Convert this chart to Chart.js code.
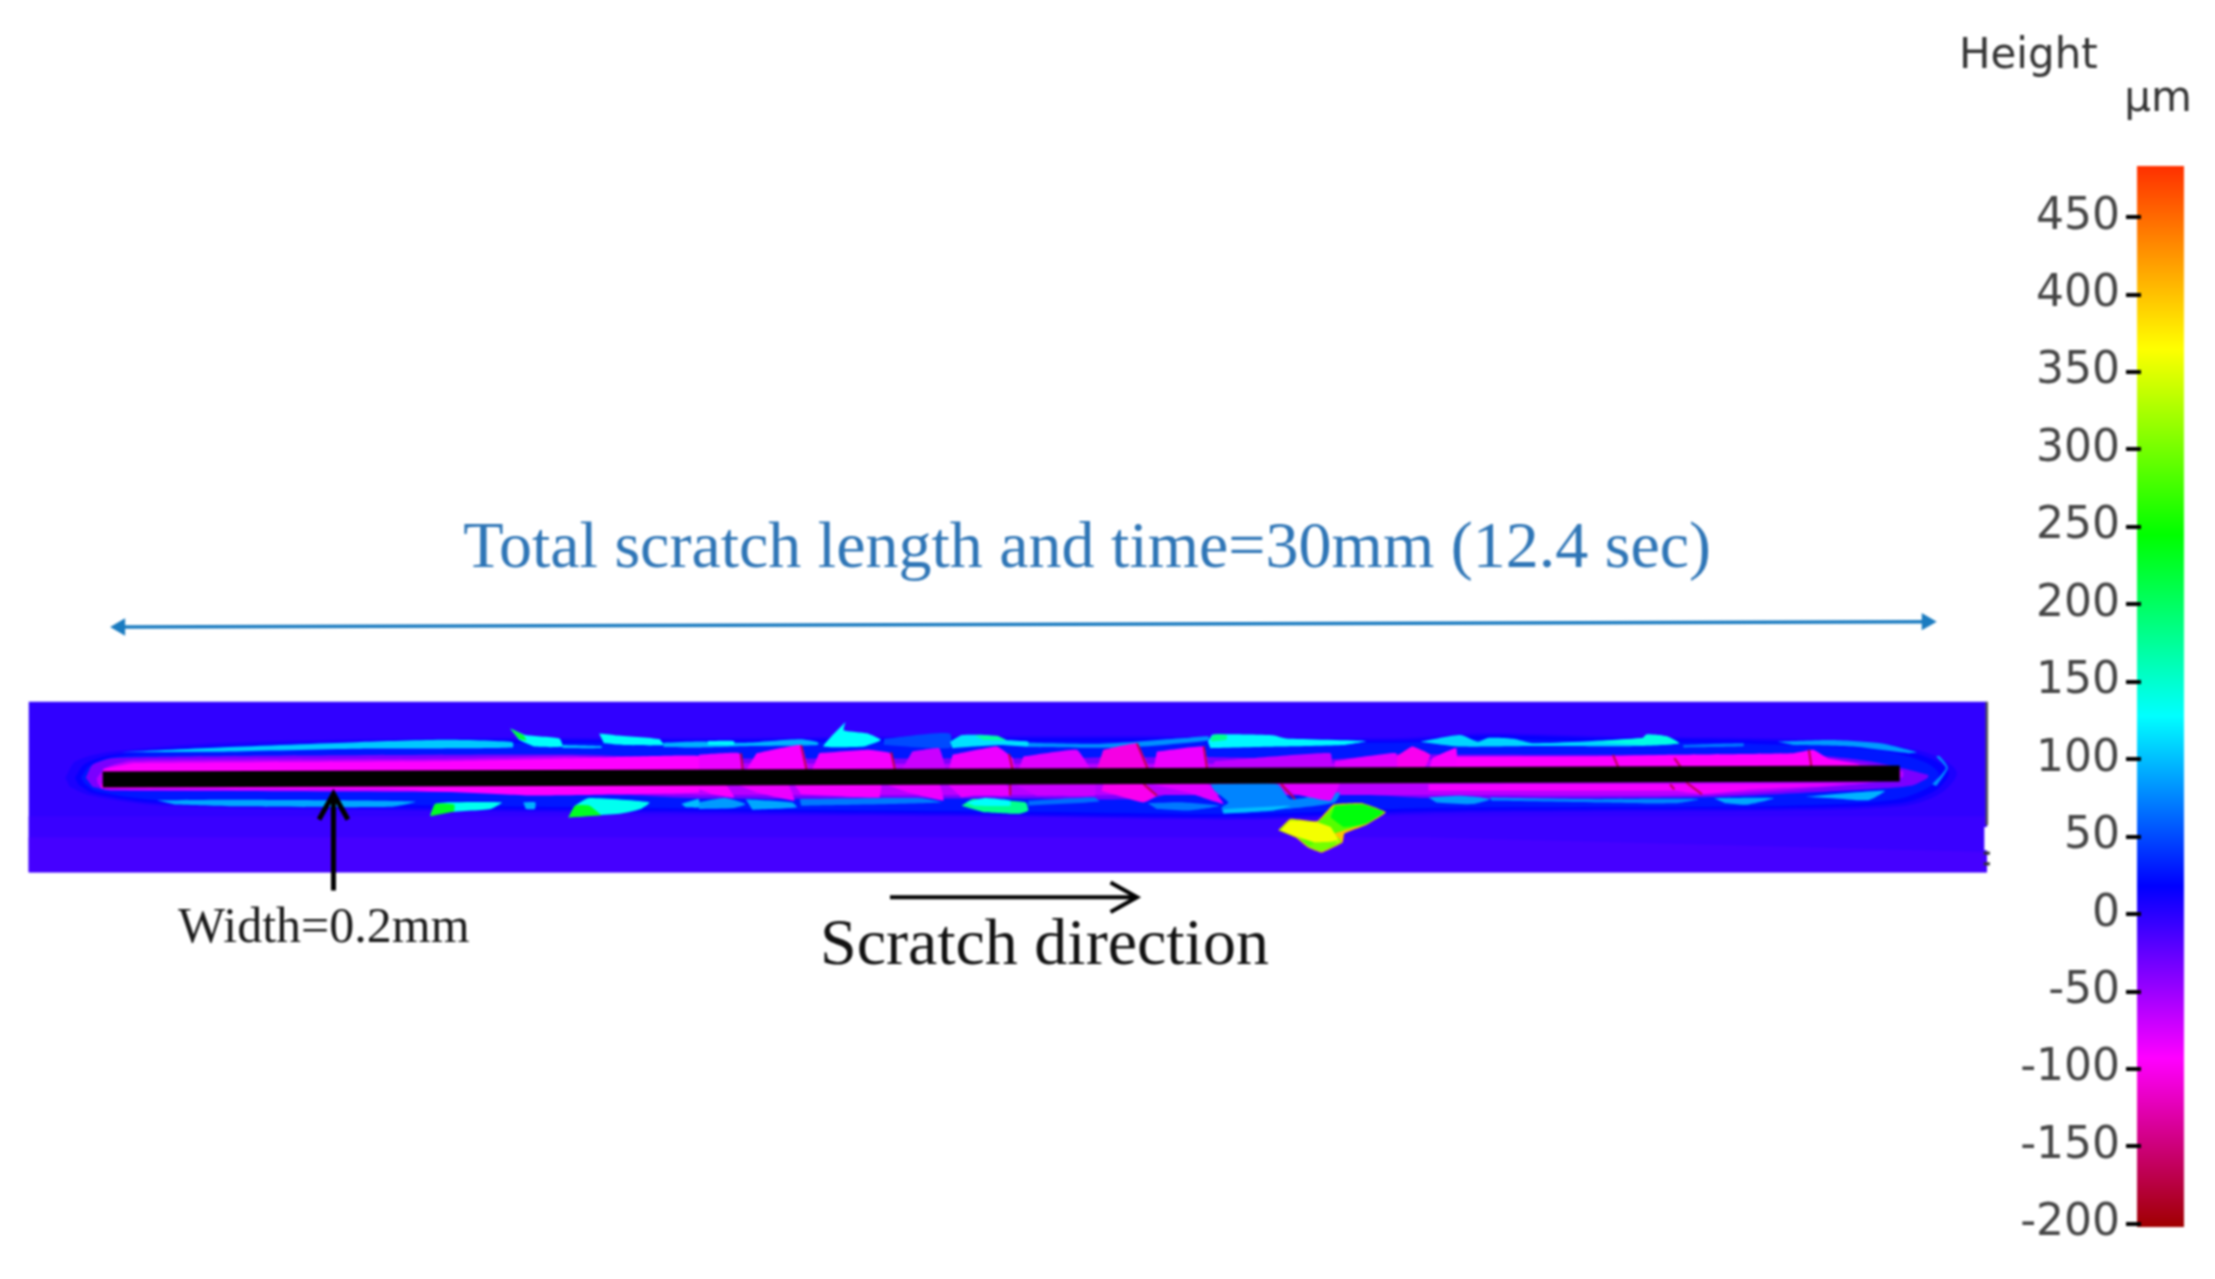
<!DOCTYPE html>
<html><head><meta charset="utf-8">
<script src="https://cdn.jsdelivr.net/npm/chart.js@4"></script>
<style>
html,body{margin:0;padding:0;background:#fff;width:2215px;height:1279px;overflow:hidden}
canvas{position:absolute;top:0;filter:blur(1px)}
#map{left:0}
#bar{left:1980px}
</style></head><body>
<canvas id="map" width="2215" height="1279"></canvas>
<canvas id="bar" width="235" height="1279"></canvas>
<script>
// Colour scale of the height map (micrometres)
const heightTicks = [450,400,350,300,250,200,150,100,50,0,-50,-100,-150,-200];
const scaleHeights = [-202,-93,18,128,245,365,483];
const scaleColors = ['#a00000','#ff00ff','#0000ff','#00ffff','#00ff00','#ffff00','#ff3000'];

// Surface regions: [height µm, x mm, y mm, x mm, y mm, ...]
const panelBands = [
 [-3, -1.23,1.33, 31.35,1.33, 31.35,-1.54, -1.23,-1.54],
 [-7, -1.23,-.6, 31.35,-.6, 31.35,-1.54, -1.23,-1.54],
 [-12, -1.23,-.95, 22,-.95, 31.35,-1.2, 31.35,-1.54, -1.23,-1.54],
];
const halo = [
 [6, -.62,.05, -.45,.33, .16,.49, 2,.64, 5.7,.72, 9.9,.72, 14,.75, 18,.75, 21.5,.72, 23,.8, 25,.75, 27.5,.72, 29.5,.65, 30.5,.42, 30.85,.14, 30.6,-.2, 30,-.42, 28,-.5, 25,-.52, 22,-.55, 19,-.65, 15,-.6, 10,-.55, 5,-.5, 1,-.42, -.2,-.25, -.55,-.1],
 [16, -.46,.05, -.3,.28, .2,.44, 2,.59, 5.7,.68, 9.9,.68, 14,.71, 18,.71, 21.5,.68, 23,.76, 25,.71, 27.5,.68, 29.5,.6, 30.4,.38, 30.72,.14, 30.5,-.16, 29.9,-.38, 28,-.46, 25,-.48, 22,-.51, 19,-.61, 15,-.56, 10,-.51, 5,-.46, 1,-.38, -.15,-.21, -.4,-.07],
 [28, -.36,.05, -.22,.25, .22,.41, 2,.53, 5.7,.62, 9.9,.64, 14,.66, 18,.66, 21.5,.64, 23,.7, 25,.66, 27.5,.62, 29.5,.52, 30.3,.32, 30.55,.12, 30.4,-.1, 29.8,-.32, 28,-.42, 25,-.44, 22,-.46, 19,-.56, 15,-.52, 10,-.47, 5,-.41, 1,-.33, -.1,-.18, -.3,-.05],
];
const trenchOuter = [
 [-35, -.28,.05, -.17,.27, .16,.38, 2.75,.42, 7.71,.44, 9.92,.38, 15.1,.38, 18.35,.4, 20.43,.36, 21.53,.45, 22.59,.44, 28.53,.42, 29.45,.32, 30.37,.1, 30.37,.05, 30.11,-.08, 29.45,-.14, 26.61,-.28, 22.19,-.3, 20.5,-.2, 18.43,-.05, 17.39,-.3, 15.1,-.3, 13.99,-.3, 9.92,-.3, 7.93,-.2, 4.97,-.16, .16,-.17, -.17,-.1],
 [-62, -.1,.04, .05,.22, .5,.34, 5.71,.37, 7.93,.41, 9.92,.3, 21.5,.3, 22.52,.4, 28.4,.4, 29.3,.28, 29.95,.16, 29.95,.06, 29,-.08, 26.6,-.24, 22.1,-.24, 9.92,-.24, 7.2,-.2, .05,-.15, -.08,-.06],
];
const rims = [
 [105, .31,.48, 2.01,.565, 4.23,.65, 5.71,.69, 6.82,.65, 6.82,.56, 4.23,.54, 2.01,.49],
 [90, .9,-.33, 2.2,-.32, 5.2,-.35, 4.8,-.44, 2.2,-.43, 1.2,-.4],
 [100, 7.65,.6, 8.3,.58, 8.3,.55, 7.65,.55],
 [95, 9.33,.64, 9.92,.66, 10.66,.64, 11.6,.7, 11.9,.65, 11.9,.6, 10.66,.58, 9.92,.56, 9.33,.57],
 [125, 10.07,.67, 10.5,.67, 10.5,.6, 10.07,.6],
 [50, 13.0,.7, 13.75,.79, 14.1,.79, 14.1,.55, 13.0,.6],
 [80, 15.4,.64, 16.58,.62, 18,.72, 18.4,.75, 18.4,.68, 17,.56, 15.4,.57],
 [110, 21.93,.658, 22.59,.77, 22.88,.658, 23.05,.72, 23.31,.72, 23.51,.7, 23.81,.63, 25.62,.72, 25.69,.78, 26.02,.75, 26.23,.63, 25.62,.585, 23.84,.585, 22.59,.575, 22.19,.62],
 [140, 24.77,.66, 25.62,.72, 25.69,.78, 26.02,.75, 26.23,.63, 25.62,.6],
 [85, 27.87,.658, 28.79,.685, 29.58,.63, 30.18,.48, 30.04,.464, 29.12,.575, 28.13,.602],
 [70, 26.3,.6, 27.3,.63, 27.3,.58, 26.3,.56],
 [80, 30.44,-.06, 30.67,.215, 30.51,.41, 30.57,.41, 30.7,.215, 30.51,-.09],
 [85, 22.06,-.282, 22.59,-.254, 23.08,-.31, 22.78,-.393, 22.19,-.365],
 [75, 23.08,-.282, 24.83,-.31, 26.55,-.31, 26.15,-.38, 24.83,-.365, 23.11,-.337],
 [90, 26.81,-.293, 27.8,-.293, 27.34,-.404, 27,-.38],
 [95, 28.33,-.27, 29.65,-.17, 29.38,-.327, 28.79,-.293],
 [85, 9.92,-.365, 10.36,-.293, 10.7,-.393, 10.5,-.46, 9.92,-.476],
 [90, 10.7,-.31, 11.47,-.365, 11.55,-.448, 10.81,-.49],
 [70, 11.6,-.31, 13.62,-.293, 13.95,-.365, 11.62,-.42],
 [65, 15.4,-.337, 16.5,-.282, 16.58,-.35, 15.4,-.42],
 [70, 17.39,-.38, 17.99,-.365, 18.58,-.42, 18.06,-.5, 17.54,-.476],
 [75, 18.43,-.061, 19.54,-.061, 19.76,-.31, 20.58,-.2, 20.5,-.365, 19.69,-.476, 18.65,-.55, 18.62,-.448, 18.73,-.365, 18.5,-.171],
 [100, 18.65,-.476, 19.76,-.42, 19.47,-.5, 18.65,-.55],
];
const flakes = [
 [130, 6.78,.88, 7.04,.77, 7.6,.71, 7.65,.575, 7.19,.575, 6.93,.685],
 [220, 6.78,.88, 7,.77, 7.05,.68, 6.93,.7],
 [130, 8.26,.796, 8.52,.768, 9.26,.702, 9.33,.602, 8.67,.602, 8.34,.63],
 [128, 12.36,.99, 12.33,.851, 12.73,.796, 12.95,.685, 12.66,.575, 11.99,.575, 12.14,.768],
 [115, 14.1,.658, 14.29,.768, 14.73,.768, 15.03,.685, 15.4,.658, 15.4,.575, 14.95,.6, 14.51,.575, 14.14,.547],
 [170, 14.51,.768, 14.88,.757, 15.03,.685, 14.66,.685],
 [125, 18.39,.658, 18.47,.779, 19.47,.768, 19.69,.713, 21.02,.669, 20.65,.602, 19.54,.575, 18.43,.547],
 [180, 18.43,.72, 18.5,.78, 18.7,.77, 18.7,.69, 18.45,.66],
 [135, 5.45,-.586, 5.53,-.393, 5.71,-.365, 6.64,-.365, 6.45,-.476, 5.71,-.53],
 [230, 5.45,-.6, 5.53,-.39, 5.85,-.4, 5.85,-.52],
 [95, 7,-.365, 7.2,-.365, 7.19,-.476, 7.04,-.476],
 [135, 7.75,-.614, 7.86,-.42, 8.08,-.293, 9.1,-.365, 8.95,-.476, 8.6,-.558, 8.15,-.586],
 [230, 7.75,-.62, 7.86,-.42, 8.1,-.42, 8.3,-.58],
 [100, 9.63,-.393, 9.92,-.31, 9.92,-.448, 9.7,-.448],
 [180, 14.29,-.42, 14.47,-.31, 15.36,-.365, 15.4,-.503, 15.25,-.558, 14.66,-.53],
 [130, 14.36,-.365, 14.66,-.293, 15.1,-.337, 15.1,-.42, 14.51,-.42],
];
const trenchBands = [
 [-92, .01,.2, .53,.3, 5.71,.33, 7.93,.38, 9.92,.42, 9.92,.1, .01,.1],
 [-92, -.03,-.06, 9.92,-.06, 9.92,-.2, 7.2,-.25, 4.97,-.15, -.03,-.13],
 [-100, 21.53,.41, 21.79,.575, 22.09,.437, 21.99,.215, 21.53,.1],
 [-90, 22.12,.38, 22.52,.55, 22.52,.1, 22.05,.1],
 [-92, 22.52,.409, 24.83,.409, 26.15,.437, 28.13,.464, 28.46,.52, 28.7,.38, 29.2,.28, 29.3,.15, 22.52,.1],
 [-88, 22.06,-.06, 28.99,-.06, 27.47,-.144, 26.61,-.227, 26.15,-.17, 23.51,-.17, 22.06,-.17],
];
const scalesUpper = [
 [-85, 9.92,.437, 10.59,.464, 10.62,.1, 9.92,.1],
 [-90, 10.88,.464, 11.62,.6, 11.73,.1, 10.66,.1],
 [-88, 11.92,.464, 12.73,.52, 13.1,.464, 13.21,.1, 11.77,.1],
 [-70, 13.47,.492, 13.92,.547, 14.03,.1, 13.25,.1],
 [-85, 14.14,.437, 14.88,.575, 15.14,.381, 15.17,.1, 14.06,.1],
 [-80, 15.32,.409, 16.21,.52, 16.47,.1, 15.21,.1],
 [-105, 16.65,.52, 17.21,.63, 17.43,.1, 16.51,.1],
 [-85, 17.54,.492, 18.32,.575, 18.39,.1, 17.47,.1],
 [-65, 18.5,.326, 20.43,.464, 20.43,.1, 18.43,.1],
 [-80, 20.5,.326, 21.52,.464, 21.52,.1, 20.5,.1],
];
const scalesLower = [
 [-90, 9.92,-.061, 10.36,-.061, 10.51,-.282, 10.14,-.227, 9.92,-.144],
 [-85, 10.55,-.061, 11.4,-.061, 11.51,-.337, 10.88,-.2],
 [-88, 11.51,-.061, 12.95,-.061, 12.92,-.282, 11.62,-.227],
 [-85, 13.03,-.061, 13.92,-.061, 13.99,-.337, 13.4,-.2],
 [-82, 14.06,-.061, 15.03,-.061, 15.1,-.254, 14.51,-.254, 14.29,-.282],
 [-70, 15.17,-.061, 16.51,-.061, 16.51,-.254, 15.54,-.254],
 [-100, 16.65,-.061, 17.32,-.061, 17.54,-.254, 17.32,-.365, 16.62,-.171],
 [-80, 17.47,-.061, 18.39,-.061, 18.65,-.393, 18.06,-.2],
 [-80, 19.54,-.033, 20.58,-.033, 20.43,-.337, 19.84,-.227],
];
const debrisFlake = [
 [400, 19.56,-.835, 19.76,-.64, 20.21,-.68, 20.48,-.4, 20.95,-.375, 21.35,-.53, 21.03,-.74, 20.66,-.89, 20.63,-1.04, 20.28,-1.21, 20.05,-1.12, 19.86,-.96],
 [285, 19.58,-.835, 19.76,-.66, 20.21,-.697, 20.5,-.42, 20.95,-.393, 21.32,-.53, 21.02,-.724, 20.5,-.89, 20.61,-1.03, 20.28,-1.194, 20.06,-1.11, 19.87,-.945],
 [360, 19.6,-.835, 19.76,-.67, 20.21,-.7, 20.43,-.78, 20.5,-.89, 20.58,-1.03, 20.35,-1.11, 20.13,-1.03, 19.87,-.945],
 [240, 20.5,-.42, 20.95,-.393, 21.32,-.53, 21.02,-.724, 20.65,-.78, 20.43,-.614],
 [300, 20.06,-1.11, 20.28,-1.194, 20.58,-1.0, 20.43,-1.03, 20.17,-1.04],
];
// Cracks between the scales: [x mm, y mm, x mm, y mm]
const crackHeight = -170;
const cracks = [
 [10.62,.46, 10.66,.1],[11.62,.6, 11.73,.1],[13.12,.48, 13.2,.1],[15.08,.45, 15.16,.1],
 [17.21,.63, 17.43,.1],[18.32,.58, 18.39,.1],[25.13,.437, 25.23,.2],[26.15,.38, 26.28,.2],
 [28.39,.52, 28.43,.24],[26.08,-.06, 26.15,-.144],[26.35,-.03, 26.61,-.227],
 [19.61,-.06, 19.84,-.31],[15.1,-.06, 15.1,-.25],[17.32,-.06, 17.54,-.25],
];
// Scan artefacts on the right edge of the panel
const panelEdge = [31.35,1.33, 31.35,-.75];
const panelNotch = [31.35,-.78, 31.35,-1.17];
const edgeSpecks = [[31.3,-1.22, 31.4,-1.22],[31.3,-1.4, 31.4,-1.4]];
// Scratch line and annotations (mm)
const scratchX = [0, 29.9];
const scratchY = [.02, .12];
const spanX = [.29, 30.35];
const spanY = [2.59, 2.68];
const widthArrowShaft = [3.84,-1.85, 3.84,-.25];
const widthArrowHead = [3.6,-.653, 3.84,-.221, 4.08,-.653];
const directionShaft = [13.1,-1.963, 17.21,-1.963];
const directionHead = [16.77,-1.714, 17.21,-1.963, 16.77,-2.21];
const notes = [
 ['Total scratch length and time=30mm (12.4 sec)', 16.38, 3.9, '66px "Liberation Serif"', '#2e75b6'],
 ['Width=0.2mm', 3.68, -2.49, '50px "Liberation Serif"', '#1a1a1a'],
 ['Scratch direction', 15.67, -2.8, '66px "Liberation Serif"', '#111111'],
 ['Height', 32.04, 12.19, '42px "DejaVu Sans"', '#333333'],
 ['µm', 34.2, 11.46, '42px "DejaVu Sans"', '#333333'],
];

function hexRgb(h){return [1,3,5].map(i=>parseInt(h.substr(i,2),16));}
function colorOf(v){
  for(let i=1;i<scaleHeights.length;i++){
    if(v<=scaleHeights[i]){
      const t=(v-scaleHeights[i-1])/(scaleHeights[i]-scaleHeights[i-1]);
      const a=hexRgb(scaleColors[i-1]),b=hexRgb(scaleColors[i]);
      return 'rgb('+a.map((c,k)=>Math.round(c+(b[k]-c)*t)).join(',')+')';
    }
  }
  return scaleColors[scaleColors.length-1];
}
function toPoints(f){const p=[];for(let i=0;i<f.length;i+=2)p.push({x:f[i],y:f[i+1]});return p;}
const datasets=[];
function addRegion(r,tension){
  datasets.push({data:toPoints(r.slice(1)),showLine:true,fill:'shape',backgroundColor:colorOf(r[0]),
    borderWidth:0,borderColor:'rgba(0,0,0,0)',pointRadius:0,tension:tension});
}
function addLine(flat,color,w,extra){
  datasets.push(Object.assign({data:toPoints(flat),showLine:true,fill:false,borderColor:color,borderWidth:w,
    pointRadius:0,tension:0,borderCapStyle:'butt',borderJoinStyle:'miter'},extra||{}));
}
panelBands.forEach(r=>addRegion(r,0));
halo.forEach(r=>addRegion(r,.3));
trenchOuter.forEach(r=>addRegion(r,.2));
rims.forEach(r=>addRegion(r,.2));
trenchBands.forEach(r=>addRegion(r,.1));
scalesUpper.forEach(r=>addRegion(r,.1));
scalesLower.forEach(r=>addRegion(r,.1));
cracks.forEach(c=>addLine(c,colorOf(crackHeight),2));
flakes.forEach(r=>addRegion(r,.15));
debrisFlake.forEach(r=>addRegion(r,.1));
addLine(panelEdge,'#555555',2.5);
addLine(panelNotch,'#ffffff',5);
edgeSpecks.forEach(s=>addLine(s,'#333333',3));
addLine([scratchX[0],scratchY[0],scratchX[1],scratchY[1]],'#000000',16);
addLine([spanX[0],spanY[0],spanX[1],spanY[1]],'#1a7bc0',3.5,{
  pointRadius:10,pointStyle:'triangle',pointRotation:[-90,90],pointBackgroundColor:'#1a7bc0',pointBorderWidth:0});
addLine(widthArrowShaft,'#000000',5);
addLine(widthArrowHead,'#000000',5);
addLine(directionShaft,'#000000',4);
addLine(directionHead,'#000000',4);
datasets.forEach((d,i)=>{d.order=datasets.length-i;});

const notesPlugin={id:'notes',afterDraw(c){
  const g=c.ctx;g.save();g.textAlign='center';g.textBaseline='middle';
  notes.forEach(n=>{g.font=n[3];g.fillStyle=n[4];
    g.fillText(n[0],c.scales.x.getPixelForValue(n[1]),c.scales.y.getPixelForValue(n[2]));});
  g.restore();}};

new Chart(document.getElementById('map'),{
  type:'scatter',data:{datasets},plugins:[notesPlugin],
  options:{responsive:false,animation:false,devicePixelRatio:1,layout:{padding:0},
    plugins:{legend:{display:false},tooltip:{enabled:false}},
    scales:{x:{type:'linear',display:false,min:-1.542,max:34.98},
            y:{type:'linear',display:false,min:-8.226,max:12.985}}}
});

function barFill(ctx){
  const c=ctx.chart;if(!c.chartArea)return scaleColors[0];
  const s=c.scales.y,lo=scaleHeights[0],hi=scaleHeights[scaleHeights.length-1];
  const g=c.ctx.createLinearGradient(0,s.getPixelForValue(hi),0,s.getPixelForValue(lo));
  scaleHeights.forEach((h,i)=>g.addColorStop((hi-h)/(hi-lo),scaleColors[i]));
  return g;
}
new Chart(document.getElementById('bar'),{
  type:'bar',
  data:{labels:['Height'],datasets:[{data:[[scaleHeights[0],scaleHeights[scaleHeights.length-1]]],
    backgroundColor:barFill,borderWidth:0,barPercentage:1.205,categoryPercentage:1,clip:false}]},
  options:{responsive:false,animation:false,devicePixelRatio:1,
    layout:{padding:{top:166,bottom:52,right:35,left:0}},
    plugins:{legend:{display:false},tooltip:{enabled:false}},
    scales:{x:{display:false},
      y:{min:scaleHeights[0],max:scaleHeights[scaleHeights.length-1],
         afterBuildTicks(s){s.ticks=heightTicks.map(v=>({value:v}));},
         afterFit(s){s.width=161;},
         border:{display:false},
         grid:{drawOnChartArea:false,drawTicks:true,tickLength:15,color:'#000',lineWidth:4,z:1},
         ticks:{padding:6,autoSkip:false,color:'#444',font:{family:'DejaVu Sans',size:44},callback:v=>String(v)}}}}
});
</script>
</body></html>
